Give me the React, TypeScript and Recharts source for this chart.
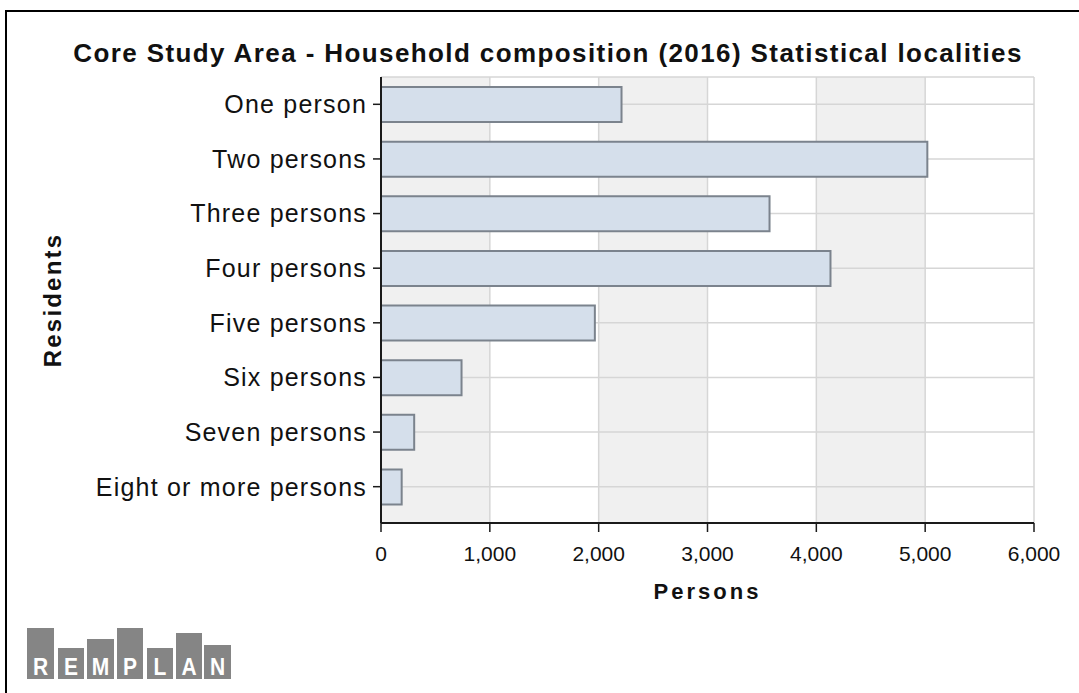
import React from 'react';
import { BarChart, Bar, XAxis, YAxis, CartesianGrid, Label } from 'recharts';

// Household composition of the core study area, 2016 census
const categories = [
  'One person',
  'Two persons',
  'Three persons',
  'Four persons',
  'Five persons',
  'Six persons',
  'Seven persons',
  'Eight or more persons',
];
const persons = [2210, 5020, 3570, 4130, 1965, 740, 305, 190];
const xTicks = [0, 1000, 2000, 3000, 4000, 5000, 6000];

const titleText = 'Core Study Area - Household composition (2016) Statistical localities';
const xTitle = 'Persons';
const yTitle = 'Residents';
const brandLetters = ['R', 'E', 'M', 'P', 'L', 'A', 'N'];

const rows = categories.map((name, i) => ({ name, persons: persons[i] }));

const FONT = '"Liberation Sans", Arial, Helvetica, sans-serif';
const INK = '#111111';
const fmt = (v: number) => v.toLocaleString('en-US');

// Block geometry for the brand mark (x, top, width), all blocks share a baseline
const brandBlocks = [
  { x: 27, top: 628, w: 27 },
  { x: 58, top: 648, w: 26 },
  { x: 87, top: 639, w: 27 },
  { x: 117, top: 628, w: 26 },
  { x: 147, top: 648, w: 26 },
  { x: 176, top: 633, w: 26 },
  { x: 204, top: 645, w: 27 },
];

function BrandMark() {
  const base = 679;
  const letterBase = 675;
  const stretch = 1.1;
  return (
    <svg
      width={260}
      height={693}
      style={{ position: 'absolute', left: 0, top: 0, pointerEvents: 'none' }}
    >
      {brandBlocks.map((b, i) => (
        <g key={i}>
          <rect x={b.x} y={b.top} width={b.w} height={base - b.top} fill="#858585" />
          <text
            x={b.x + b.w / 2}
            y={letterBase}
            textAnchor="middle"
            fill="#ffffff"
            fontWeight="bold"
            fontSize={21}
            fontFamily={'"Liberation Sans Narrow", ' + FONT}
            transform={`translate(0 ${-letterBase * (stretch - 1)}) scale(1 ${stretch})`}
          >
            {brandLetters[i]}
          </text>
        </g>
      ))}
    </svg>
  );
}

export default function App() {
  return (
    <div
      style={{
        position: 'absolute',
        left: 0,
        top: 0,
        width: 1079,
        height: 693,
        background: '#ffffff',
        overflow: 'hidden',
        fontFamily: FONT,
      }}
    >
      <div
        style={{
          position: 'absolute',
          left: 5,
          top: 10,
          width: 1200,
          height: 800,
          borderLeft: '2px solid #000',
          borderTop: '2px solid #000',
        }}
      />
      <div
        style={{
          position: 'absolute',
          left: 0,
          top: 38,
          width: 1096,
          textAlign: 'center',
          fontSize: 26,
          lineHeight: '30px',
          fontWeight: 'bold',
          letterSpacing: 1.4,
          color: INK,
          whiteSpace: 'nowrap',
        }}
      >
        {titleText}
      </div>
      <div style={{ position: 'absolute', left: 0, top: 0 }}>
        <BarChart
          width={1079}
          height={693}
          data={rows}
          layout="vertical"
          margin={{ top: 77, right: 45, bottom: 0, left: 0 }}
          style={{ fontFamily: FONT }}
        >
          <CartesianGrid
            stroke="#d6d6d6"
            strokeWidth={1.5}
            verticalFill={['#f0f0f0', '#ffffff']}
          />
          <XAxis
            type="number"
            domain={[0, 6000]}
            ticks={xTicks}
            interval={0}
            tickFormatter={fmt}
            height={170}
            axisLine={{ stroke: '#1a1a1a', strokeWidth: 2 }}
            tickLine={{ stroke: '#1a1a1a', strokeWidth: 1.5 }}
            tickSize={9}
            tickMargin={14}
            tick={{ fontSize: 21, fill: INK }}
          >
            <Label
              value={xTitle}
              position="insideTop"
              offset={60}
              style={{ fontSize: 22, fontWeight: 'bold', fill: INK, letterSpacing: 3 }}
            />
          </XAxis>
          <YAxis
            type="category"
            dataKey="name"
            width={381}
            padding={{ top: 0, bottom: 9 }}
            axisLine={{ stroke: '#1a1a1a', strokeWidth: 2 }}
            tickLine={{ stroke: '#1a1a1a', strokeWidth: 1.5 }}
            tickSize={8}
            tickMargin={6}
            interval={0}
            tick={{ fontSize: 25, fill: INK, letterSpacing: 1.2 }}
          >
            <Label
              value={yTitle}
              angle={-90}
              position="insideLeft"
              offset={52}
              style={{
                textAnchor: 'middle',
                fontSize: 24,
                fontWeight: 'bold',
                fill: INK,
                letterSpacing: 2.2,
              }}
            />
          </YAxis>
          <Bar
            dataKey="persons"
            barSize={35}
            fill="#d5dfeb"
            stroke="#7b838d"
            strokeWidth={2}
            isAnimationActive={false}
          />
        </BarChart>
      </div>
      <BrandMark />
    </div>
  );
}
